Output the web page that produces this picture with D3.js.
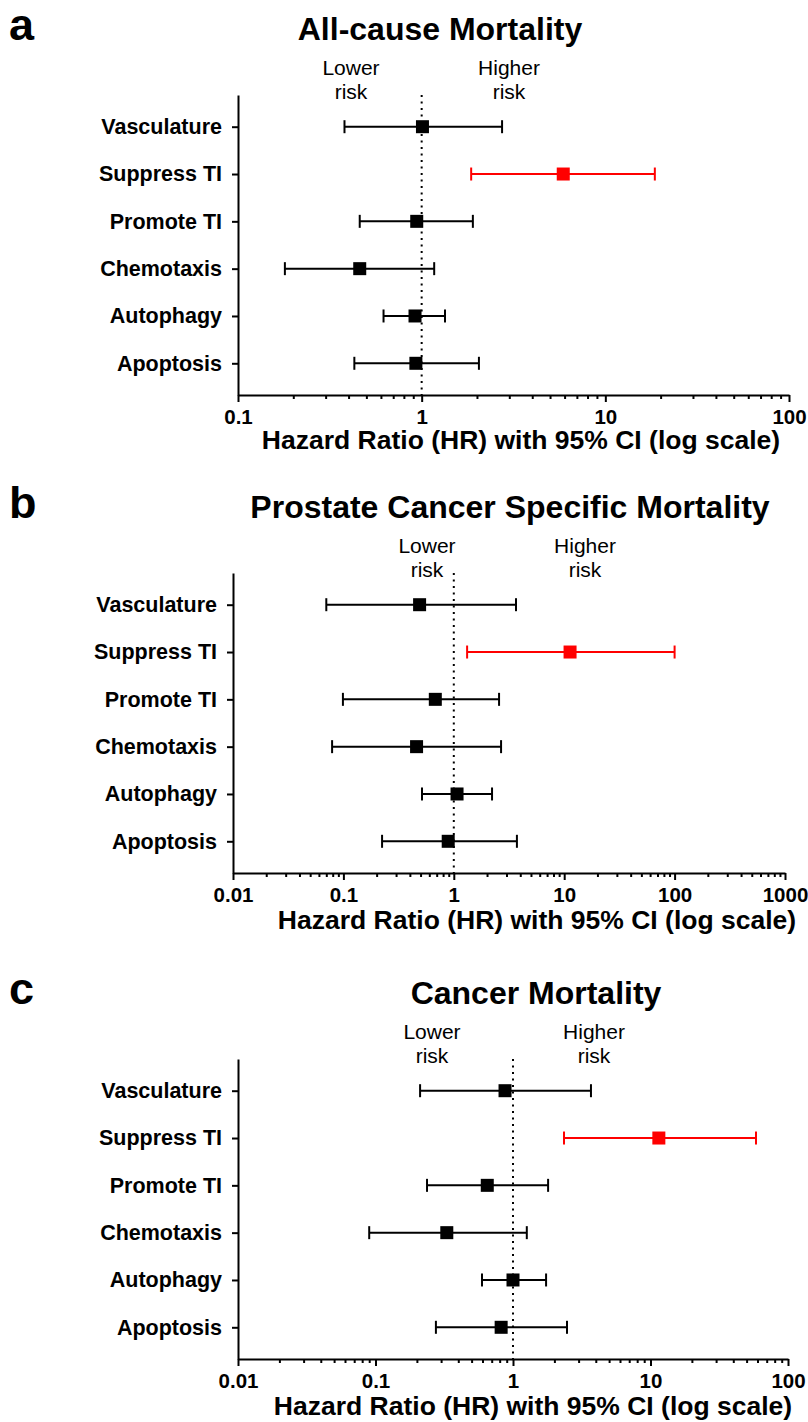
<!DOCTYPE html>
<html>
<head>
<meta charset="utf-8">
<script src="https://cdn.jsdelivr.net/npm/d3@7"></script>
<style>
  body { margin: 0; background: #fff; }
  svg { display: block; font-family: "Liberation Sans", Arial, sans-serif; }
</style>
</head>
<body>
<div class="canvas"></div>
<script>
// categories, top to bottom
const categories = ['Vasculature', 'Suppress TI', 'Promote TI', 'Chemotaxis', 'Autophagy', 'Apoptosis'];
const highlighted = 'Suppress TI';

// hazard ratios and 95% CI
const allCauseHR   = [1.01, 5.9, 0.94, 0.46, 0.92, 0.93];
const allCauseLow  = [0.38, 1.86, 0.46, 0.18, 0.62, 0.43];
const allCauseHigh = [2.74, 18.6, 1.90, 1.17, 1.34, 2.05];

const prostateHR   = [0.49, 11.3, 0.68, 0.46, 1.07, 0.89];
const prostateLow  = [0.07, 1.32, 0.099, 0.079, 0.515, 0.224];
const prostateHigh = [3.66, 100, 2.57, 2.68, 2.22, 3.73];

const cancerHR   = [0.875, 11.5, 0.65, 0.33, 1.0, 0.82];
const cancerLow  = [0.211, 2.35, 0.237, 0.09, 0.595, 0.275];
const cancerHigh = [3.69, 58.5, 1.80, 1.26, 1.74, 2.47];

// tick labels for each panel
const ticksA = ['0.1', '1', '10', '100'];
const ticksB = ['0.01', '0.1', '1', '10', '100', '1000'];
const ticksC = ['0.01', '0.1', '1', '10', '100'];

const xLabel = 'Hazard Ratio (HR) with 95% CI (log scale)';

// create svg
const svg = d3.select('.canvas')
  .append('svg')
    .attr('width', 808)
    .attr('height', 1422);

// panel layout
const panels = [
  { letter: 'a', title: 'All-cause Mortality', titleX: 440, top: 0,
    x0: 238, x1: 789, ticks: ticksA, hr: allCauseHR, lo: allCauseLow, hi: allCauseHigh,
    lowerX: 351, higherX: 509, labelX: 521, labelDy: 54 },
  { letter: 'b', title: 'Prostate Cancer Specific Mortality', titleX: 510, top: 478,
    x0: 233, x1: 785, ticks: ticksB, hr: prostateHR, lo: prostateLow, hi: prostateHigh,
    lowerX: 427, higherX: 585, labelX: 537, labelDy: 56 },
  { letter: 'c', title: 'Cancer Mortality', titleX: 536, top: 964,
    x0: 238, x1: 788, ticks: ticksC, hr: cancerHR, lo: cancerLow, hi: cancerHigh,
    lowerX: 432, higherX: 594, labelX: 533, labelDy: 56 }
];

panels.forEach(p => {
  const g = svg.append('g');
  const yTop = p.top + 95;
  const yBottom = p.top + 395;
  const tickVals = p.ticks.map(Number);

  const x = d3.scaleLog()
    .domain([tickVals[0], tickVals[tickVals.length - 1]])
    .range([p.x0, p.x1]);

  const y = d3.scalePoint()
    .domain(categories)
    .range([yTop, yBottom])
    .padding(0.67);

  // panel letter and title
  g.append('text')
    .attr('x', 9).attr('y', p.top + 40)
    .attr('font-size', '45px').attr('font-weight', 'bold')
    .text(p.letter);

  g.append('text')
    .attr('x', p.titleX).attr('y', p.top + 40)
    .attr('text-anchor', 'middle')
    .attr('font-size', '32px').attr('font-weight', 'bold')
    .text(p.title);

  // lower / higher risk notes
  [[p.lowerX, 'Lower'], [p.higherX, 'Higher']].forEach(([cx, word]) => {
    const t = g.append('text')
      .attr('text-anchor', 'middle')
      .attr('font-size', '21px');
    t.append('tspan').attr('x', cx).attr('y', p.top + 75).text(word);
    t.append('tspan').attr('x', cx).attr('y', p.top + 99).text('risk');
  });

  // reference line at HR = 1
  g.append('line')
    .attr('x1', x(1)).attr('x2', x(1))
    .attr('y1', yTop).attr('y2', yBottom)
    .attr('stroke', '#000')
    .attr('stroke-width', 2)
    .attr('stroke-dasharray', '2,4.5');

  // minor ticks
  const minor = x.ticks().filter(v => !tickVals.some(t => Math.abs(t - v) < 1e-9));
  g.append('g')
    .attr('transform', `translate(0,${yBottom})`)
    .call(d3.axisBottom(x).tickValues(minor).tickSize(4).tickFormat(''))
    .call(a => a.select('.domain').remove())
    .call(a => a.selectAll('line').attr('stroke-width', 2));

  // major ticks + labels
  g.append('g')
    .attr('transform', `translate(0,${yBottom})`)
    .call(d3.axisBottom(x).tickValues(tickVals).tickSize(7).tickSizeOuter(0)
      .tickPadding(7).tickFormat((d, i) => p.ticks[i]))
    .call(a => a.select('.domain').attr('stroke-width', 2))
    .call(a => a.selectAll('line').attr('stroke-width', 2))
    .call(a => a.selectAll('text')
      .attr('font-family', '"Liberation Sans", Arial, sans-serif')
      .attr('font-size', '20.5px').attr('font-weight', 'bold').attr('fill', '#000'));

  // y axis
  g.append('g')
    .attr('transform', `translate(${p.x0},0)`)
    .call(d3.axisLeft(y).tickSize(6).tickSizeOuter(0).tickPadding(10))
    .call(a => a.select('.domain').attr('stroke-width', 2))
    .call(a => a.selectAll('line').attr('stroke-width', 2))
    .call(a => a.selectAll('text')
      .attr('font-family', '"Liberation Sans", Arial, sans-serif')
      .attr('font-size', '21.5px').attr('font-weight', 'bold').attr('fill', '#000'));

  // x axis label
  g.append('text')
    .attr('x', p.labelX).attr('y', yBottom + p.labelDy)
    .attr('text-anchor', 'middle')
    .attr('font-size', '26.5px').attr('font-weight', 'bold')
    .text(xLabel);

  // error bars and points
  const rows = categories.map((c, i) => ({ name: c, hr: p.hr[i], lo: p.lo[i], hi: p.hi[i] }));
  const colour = d => d.name === highlighted ? '#ff0000' : '#000';

  const bars = g.selectAll('g.row')
    .data(rows)
    .enter()
    .append('g')
      .attr('class', 'row')
      .attr('transform', d => `translate(0,${y(d.name)})`);

  bars.append('line')
    .attr('x1', d => x(d.lo)).attr('x2', d => x(d.hi))
    .attr('stroke', colour).attr('stroke-width', 2);

  bars.append('line')
    .attr('x1', d => x(d.lo)).attr('x2', d => x(d.lo))
    .attr('y1', -6.5).attr('y2', 6.5)
    .attr('stroke', colour).attr('stroke-width', 2);

  bars.append('line')
    .attr('x1', d => x(d.hi)).attr('x2', d => x(d.hi))
    .attr('y1', -6.5).attr('y2', 6.5)
    .attr('stroke', colour).attr('stroke-width', 2);

  bars.append('rect')
    .attr('x', d => x(d.hr) - 6.5).attr('y', -6.5)
    .attr('width', 13).attr('height', 13)
    .attr('fill', colour);
});
</script>
</body>
</html>
